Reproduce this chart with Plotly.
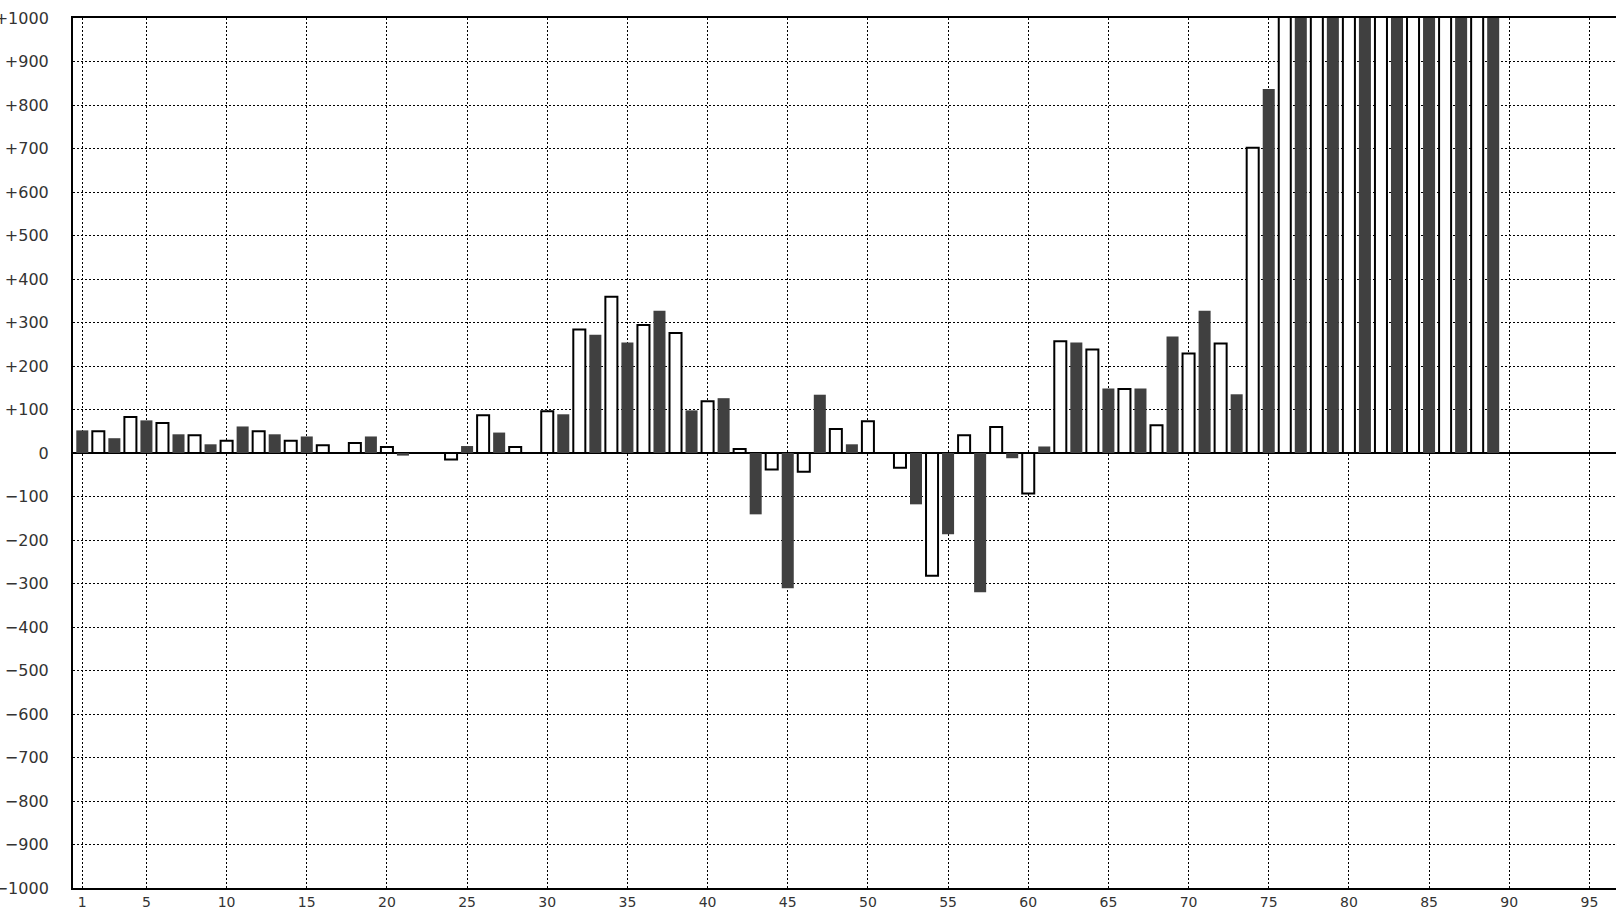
import plotly.graph_objects as go

# Positions (odd = dark bars, even = white bars)
dark_positions = [1, 3, 5, 7, 9, 11, 13, 15, 17, 19, 21, 23, 25, 27, 29, 31, 33, 35, 37, 39,
                  41, 43, 45, 47, 49, 51, 53, 55, 57, 59, 61, 63, 65, 67, 69, 71, 73, 75,
                  77, 79, 81, 83, 85, 87, 89]
dark_values = [52, 34, 75, 43, 20, 61, 43, 38, 0, 38, -6, 0, 16, 47, 0, 89, 272, 254, 327, 98,
               126, -141, -311, 134, 20, 0, -118, -187, -320, -12, 15, 254, 148, 148, 268, 327, 135, 837,
               1200, 1200, 1200, 1200, 1200, 1200, 1200]

light_positions = [2, 4, 6, 8, 10, 12, 14, 16, 18, 20, 22, 24, 26, 28, 30, 32, 34, 36, 38, 40,
                   42, 44, 46, 48, 50, 52, 54, 56, 58, 60, 62, 64, 66, 68, 70, 72, 74,
                   76, 78, 80, 82, 84, 86, 88]
light_values = [50, 83, 69, 41, 28, 50, 28, 18, 23, 14, 0, -15, 87, 14, 96, 284, 359, 294, 276, 119,
                9, -38, -43, 55, 73, -34, -282, 41, 60, -93, 257, 238, 147, 64, 229, 252, 702,
                1200, 1200, 1200, 1200, 1200, 1200, 1200]

x_tick_vals = [1, 5, 10, 15, 20, 25, 30, 35, 40, 45, 50, 55, 60, 65, 70, 75, 80, 85, 90, 95]
y_tick_vals = [-1000, -900, -800, -700, -600, -500, -400, -300, -200, -100, 0,
               100, 200, 300, 400, 500, 600, 700, 800, 900, 1000]
y_tick_text = ["\u22121000", "\u2212900", "\u2212800", "\u2212700", "\u2212600", "\u2212500",
               "\u2212400", "\u2212300", "\u2212200", "\u2212100", "0",
               "+100", "+200", "+300", "+400", "+500", "+600", "+700", "+800", "+900", "+1000"]

fig = go.Figure()
fig.add_trace(go.Bar(x=dark_positions, y=dark_values, width=0.75,
                     marker=dict(color="#404040", line=dict(width=0))))
fig.add_trace(go.Bar(x=light_positions, y=light_values, width=0.75,
                     marker=dict(color="white", line=dict(color="black", width=2))))

font = dict(family="DejaVu Sans", size=16, color="#333333")

fig.update_layout(
    width=1616, height=910,
    margin=dict(l=73, r=0, t=18, b=22),
    paper_bgcolor="white", plot_bgcolor="white",
    showlegend=False, barmode="overlay",
    font=font,
    xaxis=dict(range=[0.42, 96.66], tickvals=x_tick_vals, ticktext=[str(v) for v in x_tick_vals],
               showgrid=True, gridcolor="black", gridwidth=1, griddash="2px,2px",
               showline=True, linecolor="black", linewidth=2, mirror=True, automargin=False,
               ticks="", zeroline=False,
               tickfont=dict(family="DejaVu Sans", size=14, color="#333333")),
    yaxis=dict(range=[-1000, 1000], tickvals=y_tick_vals, ticktext=y_tick_text,
               showgrid=True, gridcolor="black", gridwidth=1, griddash="2px,2px",
               showline=True, linecolor="black", linewidth=2, mirror=False, automargin=False,
               zeroline=True, zerolinecolor="black", zerolinewidth=2,
               ticks="outside", ticklen=19, tickcolor="rgba(0,0,0,0)",
               tickfont=font),
)

fig.write_html("out.html", config={"displayModeBar": False},
               post_script="document.body.style.margin='0px';document.body.style.overflow='hidden';")
